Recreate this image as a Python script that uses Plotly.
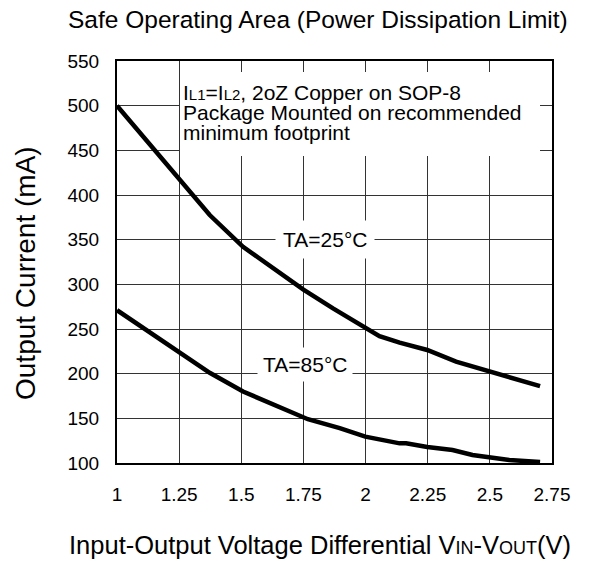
import plotly.graph_objects as go

# ---- data ----
x_ticks = [1, 1.25, 1.5, 1.75, 2, 2.25, 2.5, 2.75]
x_tick_labels = ["1", "1.25", "1.5", "1.75", "2", "2.25", "2.5", "2.75"]
y_ticks = [100, 150, 200, 250, 300, 350, 400, 450, 500, 550]

vdiff_25 = [1.0, 1.146, 1.253, 1.373, 1.507, 1.641, 1.75, 1.869, 1.999, 2.056, 2.137, 2.248, 2.364, 2.5, 2.702]
iout_25 = [500, 452, 418.7, 377.6, 342, 316, 294, 273, 250.8, 242, 234.7, 226.5, 213.4, 202, 186]

vdiff_85 = [1.0, 1.106, 1.25, 1.373, 1.507, 1.641, 1.768, 1.896, 1.999, 2.137, 2.163, 2.248, 2.35, 2.43, 2.5, 2.578, 2.702]
iout_85 = [271, 251, 224.6, 201, 180, 164, 149, 139, 129.5, 122, 122, 118, 114.6, 109, 106.4, 103.4, 101]

FONT = "Liberation Sans, Arial, sans-serif"

fig = go.Figure()
fig.add_trace(go.Scatter(x=vdiff_25, y=iout_25, mode="lines",
                         line=dict(color="black", width=4.5), name="TA=25°C"))
fig.add_trace(go.Scatter(x=vdiff_85, y=iout_85, mode="lines",
                         line=dict(color="black", width=4.5), name="TA=85°C"))

OFF = 8  # page body margin
W, H = 589 - OFF, 562 - OFF
# plot area in window coords: x 117..552, y 61..463
L, T = 117 - OFF, 61 - OFF
R = W - (552 - OFF)
B = H - (463 - OFF)
pw, ph = W - L - R, H - T - B

def px(x):  # window x -> paper
    return (x - OFF - L) / pw

def py(y):  # window y -> paper
    return (H - B - (y - OFF)) / ph

def small(s, size):
    return "<span style='font-size:%dpx'>%s</span>" % (size, s)

annotations = [
    dict(text="Safe Operating Area (Power Dissipation Limit)", xref="paper", yref="paper",
         x=px(318), y=py(20), xanchor="center", yanchor="middle", showarrow=False,
         borderpad=0, font=dict(size=24.5, color="black", family=FONT)),
    dict(text="Input-Output Voltage Differential V" + small("IN", 18)
         + "-V" + small("OUT", 18) + "(V)",
         xref="paper", yref="paper",
         x=px(320), y=py(545), xanchor="center", yanchor="middle", showarrow=False,
         font=dict(size=25.5, color="black", family=FONT)),
    dict(text="Output Current (mA)", xref="paper", yref="paper", textangle=-90,
         x=px(25), y=py(273), xanchor="center", yanchor="middle", showarrow=False,
         font=dict(size=28, color="black", family=FONT)),
    # info text lines
    dict(text="I" + small("L1", 15) + "=I" + small("L2", 15) + ", 2oZ Copper on SOP-8",
         xref="paper", yref="paper", x=px(181), y=py(92), xanchor="left", yanchor="middle",
         showarrow=False, font=dict(size=21, color="black", family=FONT)),
    dict(text="Package Mounted on recommended",
         xref="paper", yref="paper", x=px(181), y=py(112.5), xanchor="left", yanchor="middle",
         showarrow=False, font=dict(size=21, color="black", family=FONT)),
    dict(text="minimum footprint",
         xref="paper", yref="paper", x=px(181), y=py(133), xanchor="left", yanchor="middle",
         showarrow=False, font=dict(size=21, color="black", family=FONT)),
    # curve labels
    dict(text="TA=25°C", x=1.835, y=350, xref="x", yref="y", showarrow=False,
         xanchor="center", yanchor="middle", bgcolor="white", borderpad=7,
         font=dict(size=21, color="black", family=FONT)),
    dict(text="TA=85°C", x=1.755, y=210, xref="x", yref="y", showarrow=False,
         xanchor="center", yanchor="middle", bgcolor="white", borderpad=5,
         font=dict(size=21, color="black", family=FONT)),
]

shapes = [
    dict(type="rect", xref="paper", yref="paper",
         x0=px(180), x1=px(540), y0=py(156), y1=py(72),
         fillcolor="white", line=dict(width=0), layer="above"),
]

fig.update_layout(
    width=W, height=H,
    margin=dict(l=L, r=R, t=T, b=B, autoexpand=False),
    paper_bgcolor="white", plot_bgcolor="white",
    showlegend=False,
    font=dict(family=FONT, color="black", size=19),
    annotations=annotations,
    shapes=shapes,
)
fig.update_xaxes(range=[1, 2.75], tickvals=x_ticks, ticktext=x_tick_labels,
                 showgrid=True, gridcolor="#333333", gridwidth=1,
                 showline=True, linecolor="black", linewidth=2, mirror=True,
                 zeroline=False, ticks="", ticklabelstandoff=13,
                 tickfont=dict(size=19, family=FONT, color="black"))
fig.update_yaxes(range=[100, 550], tickvals=y_ticks,
                 showgrid=True, gridcolor="#333333", gridwidth=1,
                 showline=True, linecolor="black", linewidth=2, mirror=True,
                 zeroline=False, ticks="", ticklabelstandoff=12,
                 tickfont=dict(size=19, family=FONT, color="black"))

fig.write_html("out.html")
